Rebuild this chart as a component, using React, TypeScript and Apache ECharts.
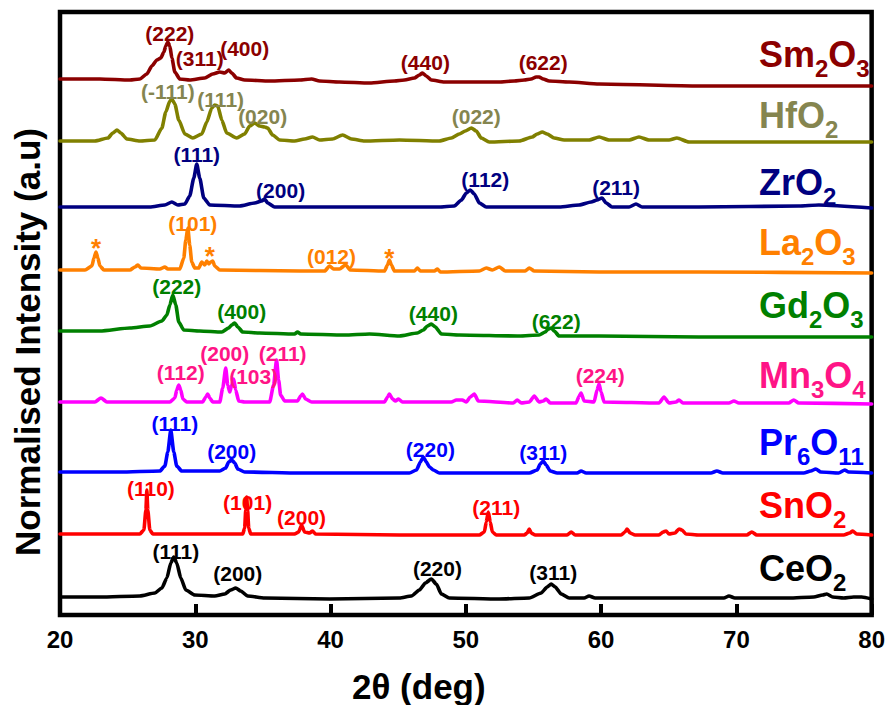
import React, { useEffect, useRef } from 'react';
import * as echarts from 'echarts';

// ---- Data: [2θ (deg), stacked normalised intensity (a.u.)] ----
const SM2O3: [number, number][] = [[20,536],[22.95,536],[25.17,535],[25.90,536],[26.42,541],[26.79,549],[27.16,555],[27.45,557],[27.68,563],[27.82,569],[27.97,573],[28.12,569],[28.27,557],[28.49,543],[28.86,536],[29.59,535],[30.70,537],[31.29,541],[31.81,543],[32.18,542],[32.47,545],[32.69,542],[33.06,537],[33.65,535],[35.50,534],[37.71,535],[38.60,536],[39.19,534],[40.66,533],[42.88,532],[44.72,534],[45.46,535],[46.20,537],[46.57,540],[46.79,542],[47.08,539],[47.45,535],[48.41,533],[50.26,533],[52.47,533],[53.58,534],[54.32,535],[54.83,536],[55.20,538],[55.42,538],[55.72,536],[56.16,534],[57.64,533],[59.85,531],[67.23,529],[80,529]];
const HFO2: [number, number][] = [[20,474],[22.58,474],[23.54,477],[23.91,482],[24.21,485],[24.50,482],[24.94,476],[25.90,474],[27.01,475],[27.53,487],[27.82,503],[28.12,514],[28.27,516],[28.49,511],[28.78,495],[29.23,481],[29.82,477],[30.48,481],[30.85,493],[31.22,507],[31.44,510],[31.66,509],[31.96,495],[32.32,482],[33.06,477],[33.65,481],[34.02,489],[34.39,492],[34.76,489],[35.13,488],[35.35,487],[35.72,480],[36.24,475],[37.34,474],[38.08,476],[38.67,478],[39.19,475],[40.15,476],[40.89,480],[41.55,476],[42.51,474],[45.09,475],[48.04,474],[48.93,477],[49.52,481],[49.96,484],[50.41,487],[50.77,484],[51.14,477],[51.73,473],[53.95,474],[54.91,478],[55.28,481],[55.65,483],[56.01,481],[56.53,477],[57.27,475],[59.11,475],[59.85,478],[60.59,475],[62.07,475],[62.80,478],[63.54,475],[65.02,475],[65.61,477],[66.49,473],[80,473]];
const ZRO2: [number, number][] = [[20,408],[26.64,408],[27.75,410],[28.27,413],[28.71,410],[29.23,411],[29.59,419],[29.89,437],[30.11,451],[30.33,437],[30.63,417],[31.07,410],[33.28,409],[34.39,412],[34.91,414],[35.13,416],[35.35,412],[35.87,408],[41.40,408],[48.04,408],[49.15,409],[49.67,415],[50.04,422],[50.33,425],[50.63,421],[51.00,412],[51.51,408],[56.90,408],[58.38,410],[59.26,413],[59.70,415],[60.07,417],[60.37,412],[60.81,408],[62.07,408],[62.58,411],[63.03,408],[67.23,408],[74.61,409],[76.09,410],[80,407]];
const LA2O3: [number, number][] = [[20,345],[21.85,345],[22.36,349],[22.51,357],[22.66,363],[22.80,357],[22.95,349],[23.25,345],[25.17,345],[25.54,348],[25.76,350],[25.98,347],[27.38,346],[27.75,348],[27.97,346],[28.86,346],[29.15,357],[29.30,375],[29.45,387],[29.59,370],[29.74,353],[29.96,347],[30.26,347],[30.48,353],[30.70,350],[30.85,354],[31.00,351],[31.14,353],[31.29,354],[31.44,349],[31.81,345],[37.71,344],[39.56,344],[39.93,349],[40.22,346],[40.66,346],[41.11,350],[41.48,345],[43.99,344],[44.21,350],[44.35,355],[44.50,350],[44.72,344],[46.20,344],[46.42,347],[46.64,344],[47.68,344],[47.90,346],[48.12,343],[51.00,344],[51.51,347],[51.96,345],[52.47,348],[52.92,344],[54.39,344],[54.69,347],[55.06,344],[59.85,343],[67.23,343],[80,342]];
const GD2O3: [number, number][] = [[20,284],[22.95,284],[25.17,287],[26.64,289],[27.53,294],[27.90,300],[28.12,310],[28.34,320],[28.56,310],[28.78,293],[29.15,285],[30.33,284],[31.96,283],[32.47,287],[32.69,290],[32.92,292],[33.14,288],[33.51,283],[34.76,282],[37.34,281],[37.56,283],[37.79,281],[41.03,280],[42.88,281],[45.09,279],[46.42,282],[46.86,285],[47.16,289],[47.45,291],[47.75,288],[48.19,281],[49.52,280],[53.95,279],[55.42,280],[55.87,283],[56.09,286],[56.31,287],[56.53,284],[56.90,279],[59.85,279],[67.23,278],[74.61,278],[80,278]];
const MN3O4: [number, number][] = [[20,213],[22.58,213],[23.03,217],[23.47,213],[28.12,213],[28.49,217],[28.63,225],[28.78,230],[28.93,225],[29.08,216],[29.37,213],[30.55,213],[30.77,218],[30.92,221],[31.07,217],[31.29,213],[31.81,213],[32.03,227],[32.25,247],[32.40,230],[32.55,223],[32.69,230],[32.84,236],[32.99,225],[33.21,214],[33.65,213],[35.50,213],[35.79,230],[36.01,255],[36.16,235],[36.31,220],[36.61,214],[37.56,214],[37.79,219],[37.93,221],[38.15,216],[38.60,213],[43.99,213],[44.21,218],[44.35,221],[44.58,216],[44.80,214],[45.02,216],[45.31,213],[48.93,213],[49.30,215],[49.74,215],[50.04,213],[50.33,218],[50.63,221],[50.92,214],[53.51,212],[53.80,215],[54.10,212],[54.69,213],[55.06,219],[55.42,213],[55.72,214],[55.94,216],[56.24,212],[58.15,212],[58.38,219],[58.52,222],[58.75,214],[59.48,213],[59.70,225],[59.85,231],[60.00,223],[60.22,213],[64.28,212],[64.65,218],[65.02,212],[65.54,213],[65.76,215],[66.05,212],[69.45,212],[69.82,214],[70.18,212],[73.87,212],[74.24,215],[74.61,212],[80,211]];
const PR6O11: [number, number][] = [[20,143],[24.43,143],[27.38,144],[27.75,149],[27.97,163],[28.19,185],[28.41,163],[28.63,149],[29.00,144],[31.81,144],[32.25,147],[32.47,153],[32.69,155],[32.92,152],[33.14,146],[33.65,143],[37.71,142],[45.83,142],[46.35,145],[46.64,153],[46.86,158],[47.08,153],[47.31,148],[47.60,145],[48.04,142],[54.69,142],[55.28,145],[55.50,151],[55.72,154],[55.94,150],[56.24,144],[56.75,142],[58.23,142],[58.52,144],[58.89,142],[68.12,142],[68.56,144],[69.00,142],[74.98,142],[75.50,144],[75.87,146],[76.24,143],[77.56,142],[78.01,145],[78.30,143],[80,142]];
const SNO2: [number, number][] = [[20,81],[22.95,81],[25.90,81],[26.20,85],[26.35,105],[26.42,125],[26.49,105],[26.64,85],[26.86,81],[30.33,81],[33.51,81],[33.65,87],[33.73,105],[33.80,118],[33.87,105],[33.95,87],[34.10,81],[37.34,81],[37.64,83],[37.86,90],[38.08,83],[38.45,82],[38.67,84],[38.89,81],[45.09,80],[51.00,80],[51.37,83],[51.51,93],[51.66,103],[51.81,93],[51.96,83],[52.25,80],[54.32,80],[54.54,82],[54.69,86],[54.83,82],[55.13,80],[57.49,80],[57.79,83],[58.08,80],[61.48,80],[61.77,83],[61.92,86],[62.14,82],[62.51,80],[64.28,80],[64.58,83],[64.80,84],[65.02,81],[65.46,82],[65.76,86],[65.98,85],[66.27,81],[67.23,80],[70.77,80],[71.14,83],[71.51,80],[77.93,80],[78.38,82],[78.60,84],[78.89,81],[80,80]];
const CEO2: [number, number][] = [[20,18],[22.95,18],[25.90,19],[27.01,22],[27.53,27],[27.90,37],[28.19,52],[28.41,58],[28.63,52],[28.93,37],[29.30,25],[29.96,20],[31.44,19],[32.18,21],[32.62,25],[32.99,27],[33.36,24],[33.87,19],[35.13,17],[39.93,16],[45.09,17],[45.98,19],[46.57,25],[47.01,32],[47.45,36],[47.82,31],[48.19,21],[48.78,17],[52.47,16],[54.69,17],[55.57,22],[56.01,28],[56.31,31],[56.61,28],[57.05,21],[57.64,17],[58.75,17],[59.11,19],[59.56,17],[67.23,17],[69.08,17],[69.45,19],[69.89,17],[73.87,17],[75.72,18],[76.38,20],[76.68,21],[77.12,18],[77.93,17],[78.67,18],[79.26,18],[80,16]];

// ---- Peak annotations: [2θ, intensity, text] ----
const SM_PEAKS: [number, number, string][] = [[28.12,582,'(222)'],[30.33,557,'(311)'],[33.65,567,'(400)'],[47.01,553,'(440)'],[55.72,553,'(622)']];
const HF_PEAKS: [number, number, string][] = [[27.97,524,'(-111)'],[31.88,516,'(111)'],[34.98,499,'(020)'],[50.77,499,'(022)']];
const ZR_PEAKS: [number, number, string][] = [[30.11,461,'(111)'],[36.31,425,'(200)'],[51.44,436,'(112)'],[61.11,428,'(211)']];
const LA_PEAKS: [number, number, string][] = [[22.66,367,'*'],[29.82,392,'(101)'],[31.07,359,'*'],[40.07,359,'(012)'],[44.35,357,'*']];
const GD_PEAKS: [number, number, string][] = [[28.63,329,'(222)'],[33.43,304,'(400)'],[47.60,302,'(440)'],[56.68,294,'(622)']];
const MN_PEAKS: [number, number, string][] = [[28.93,243,'(112)'],[32.18,262,'(200)'],[34.32,239,'(103)'],[36.46,262,'(211)'],[59.93,240,'(224)']];
const PR_PEAKS: [number, number, string][] = [[28.49,192,'(111)'],[32.69,164,'(200)'],[47.38,166,'(220)'],[55.72,163,'(311)']];
const SN_PEAKS: [number, number, string][] = [[26.72,127,'(110)'],[33.87,113,'(101)'],[37.86,98,'(200)'],[52.25,108,'(211)']];
const CE_PEAKS: [number, number, string][] = [[28.56,64,'(111)'],[33.14,42,'(200)'],[47.90,47,'(220)'],[56.46,43,'(311)']];

const SAMPLE_NAMES = ['Sm2O3', 'HfO2', 'ZrO2', 'La2O3', 'Gd2O3', 'Mn3O4', 'Pr6O11', 'SnO2', 'CeO2'];
const X_MIN = 20;
const X_MAX = 80;
const X_STEP = 10;
const X_TITLE = '2θ (deg)';
const Y_TITLE = 'Normalised Intensity (a.u)';

const FONT = '"Liberation Sans", Arial, Helvetica, sans-serif';

const STYLES = [
  { data: SM2O3, peaks: SM_PEAKS, line: '#8B0000', text: '#8B0000', nameBase: 67 },
  { data: HFO2, peaks: HF_PEAKS, line: '#808000', text: '#85854F', nameBase: 128 },
  { data: ZRO2, peaks: ZR_PEAKS, line: '#000080', text: '#000080', nameBase: 195 },
  { data: LA2O3, peaks: LA_PEAKS, line: '#FF8000', text: '#FF8000', nameBase: 255 },
  { data: GD2O3, peaks: GD_PEAKS, line: '#008000', text: '#008000', nameBase: 318 },
  { data: MN3O4, peaks: MN_PEAKS, line: '#FF00FF', text: '#FF1486', nameBase: 388 },
  { data: PR6O11, peaks: PR_PEAKS, line: '#0000FF', text: '#0000FF', nameBase: 455 },
  { data: SNO2, peaks: SN_PEAKS, line: '#FF0000', text: '#FF0000', nameBase: 518 },
  { data: CEO2, peaks: CE_PEAKS, line: '#000000', text: '#000000', nameBase: 581 },
];

function richName(name: string): string {
  const parts = name.match(/[A-Za-z]+|\d+/g) || [];
  return parts.map((p) => (/\d/.test(p) ? `{s|${p}}` : `{m|${p}}`)).join('');
}

export default function App() {
  const ref = useRef<HTMLDivElement>(null);

  useEffect(() => {
    document.body.style.margin = '0';
    if (!ref.current) return;
    const chart = echarts.init(ref.current, undefined, { renderer: 'svg' });

    const series: any[] = [];
    STYLES.forEach((s, i) => {
      series.push({
        type: 'line',
        name: SAMPLE_NAMES[i],
        data: s.data,
        showSymbol: false,
        symbol: 'none',
        silent: true,
        smooth: 0.2,
        smoothMonotone: 'x',
        z: 2,
        lineStyle: { color: s.line, width: 3.6, join: 'round', cap: 'round' },
        itemStyle: { color: s.line },
      });
      series.push({
        type: 'scatter',
        data: s.peaks.map((p) => ({ value: [p[0], p[1]], name: p[2] })),
        symbolSize: 1,
        silent: true,
        z: 5,
        itemStyle: { color: 'rgba(0,0,0,0)', opacity: 1 },
        label: {
          show: true,
          position: 'inside',
          opacity: 1,
          formatter: (p: any) => (p.name === '*' ? '{a|*}' : p.name),
          color: s.text,
          textBorderWidth: 0,
          fontSize: 21,
          fontWeight: 'bold',
          fontFamily: FONT,
          rich: { a: { fontSize: 26, fontWeight: 'bold', fontFamily: FONT, color: s.text } },
        },
      });
    });

    const graphics: any[] = STYLES.map((s, i) => ({
      type: 'text',
      x: 759,
      y: s.nameBase - 30.3,
      silent: true,
      style: {
        text: richName(SAMPLE_NAMES[i]),
        fill: s.text,
        align: 'left',
        verticalAlign: 'top',
        rich: {
          m: { fontSize: 36, fontWeight: 'bold', fontFamily: FONT, lineHeight: 36, verticalAlign: 'top', fill: s.text },
          s: { fontSize: 24, fontWeight: 'bold', fontFamily: FONT, lineHeight: 64, verticalAlign: 'middle', fill: s.text },
        },
      },
    }));
    graphics.push({
      type: 'text',
      x: 352,
      y: 686,
      silent: true,
      style: {
        text: X_TITLE,
        fill: '#000',
        font: `bold 35px ${FONT}`,
        align: 'left',
        verticalAlign: 'middle',
      },
    });
    graphics.push({
      type: 'text',
      x: 27,
      y: 342,
      rotation: Math.PI / 2,
      silent: true,
      style: {
        text: Y_TITLE,
        fill: '#000',
        font: `bold 35px ${FONT}`,
        align: 'center',
        verticalAlign: 'middle',
      },
    });

    chart.setOption({
      animation: false,
      backgroundColor: '#fff',
      grid: {
        left: 60,
        right: 14,
        top: 12,
        bottom: 90,
        show: true,
        borderColor: '#000',
        borderWidth: 4.5,
        backgroundColor: 'transparent',
      },
      xAxis: {
        type: 'value',
        min: X_MIN,
        max: X_MAX,
        interval: X_STEP,
        axisLine: { show: false },
        splitLine: { show: false },
        axisTick: { show: true, inside: true, length: 11, lineStyle: { color: '#000', width: 4 } },
        axisLabel: { color: '#000', fontSize: 24, fontWeight: 'bold', fontFamily: FONT, margin: 12 },
      },
      yAxis: { type: 'value', min: 0, max: 603, show: false },
      series,
      graphic: graphics,
    });

    return () => chart.dispose();
  }, []);

  return <div ref={ref} style={{ position: 'fixed', left: 0, top: 0, width: 888, height: 705 }} />;
}
